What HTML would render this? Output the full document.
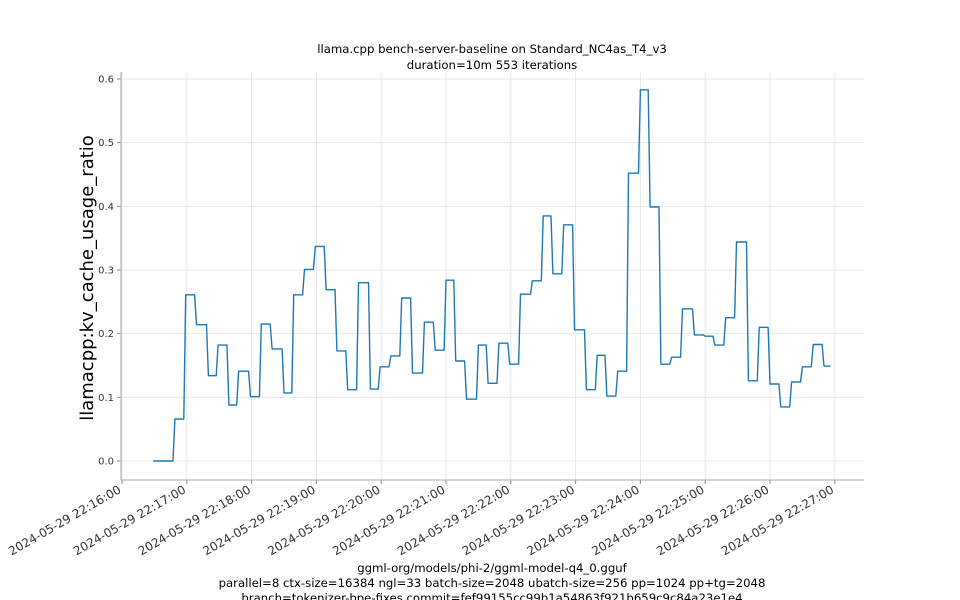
<!DOCTYPE html>
<html><head><meta charset="utf-8"><style>
body{margin:0;background:#fff;}
svg{display:block;font-family:"DejaVu Sans","Liberation Sans",sans-serif;}
</style></head><body>
<svg id="chart" width="960" height="600">
<text x="492" y="53" font-size="11.7" text-anchor="middle" fill="#000">llama.cpp bench-server-baseline on Standard_NC4as_T4_v3</text>
<text x="492" y="69" font-size="11.7" text-anchor="middle" fill="#000">duration=10m 553 iterations</text>
<text transform="translate(93,278) rotate(-90)" font-size="18" text-anchor="middle" fill="#000">llamacpp:kv_cache_usage_ratio</text>
<text x="492" y="572" font-size="11.7" text-anchor="middle">ggml-org/models/phi-2/ggml-model-q4_0.gguf</text>
<text x="492" y="587" font-size="11.7" text-anchor="middle">parallel=8 ctx-size=16384 ngl=33 batch-size=2048 ubatch-size=256 pp=1024 pp+tg=2048</text>
<text x="492" y="602" font-size="11.7" text-anchor="middle">branch=tokenizer-bpe-fixes commit=fef99155cc99b1a54863f921b659c9c84a23e1e4</text>
<g id="grid"></g><g id="axes"></g><g id="series"></g>
</svg>
<script>
const stepTimes=[29,49,59,69,80,89,99,108,119,129,139,150,159,169,179,189,199,209,219,230,239,249,259,269,280,290,300,309,319,330,339,349,359,369,380,390,399,409,419,430,440,449,459,469,480,489,499,509,519,530,540,549,559,569,580,590,600,610,620,630,640,650];
const stepValues=[0.0,0.066,0.261,0.214,0.134,0.182,0.088,0.141,0.101,0.215,0.176,0.107,0.261,0.301,0.337,0.269,0.173,0.112,0.28,0.113,0.148,0.165,0.256,0.138,0.218,0.174,0.284,0.157,0.097,0.182,0.122,0.185,0.152,0.262,0.283,0.385,0.294,0.371,0.206,0.112,0.166,0.102,0.141,0.452,0.583,0.399,0.152,0.163,0.239,0.198,0.196,0.182,0.225,0.344,0.126,0.21,0.121,0.085,0.124,0.148,0.183,0.149];
const endTime=656;
const yTicks=[0.0,0.1,0.2,0.3,0.4,0.5,0.6];
const yTickLabels=["0.0","0.1","0.2","0.3","0.4","0.5","0.6"];
const xTicks=[0,60,120,180,240,300,360,420,480,540,600,660];
const xTickLabels=["2024-05-29 22:16:00","2024-05-29 22:17:00","2024-05-29 22:18:00","2024-05-29 22:19:00","2024-05-29 22:20:00","2024-05-29 22:21:00","2024-05-29 22:22:00","2024-05-29 22:23:00","2024-05-29 22:24:00","2024-05-29 22:25:00","2024-05-29 22:26:00","2024-05-29 22:27:00"];
const L=121,R=864,T=72,B=480;
const xs=t=>122+t*1.08;
const ys=v=>461-v*636.7;
const NS="http://www.w3.org/2000/svg";
function mk(tag,attrs,parent,txt){const e=document.createElementNS(NS,tag);for(const k in attrs)e.setAttribute(k,attrs[k]);if(txt!==undefined)e.textContent=txt;parent.appendChild(e);return e;}
const grid=document.getElementById('grid'),axes=document.getElementById('axes'),series=document.getElementById('series');
yTicks.forEach((v,i)=>{
  const g=mk('line',{x1:L,x2:R,y1:ys(v),y2:ys(v),stroke:'#e8e8e8','stroke-width':1},grid);
  
  
  const tk=mk('line',{x1:L-4,x2:L,y1:ys(v),y2:ys(v),stroke:'#888'},axes);
  
  
  const lb=mk('text',{x:L-7,y:ys(v)+3.5,'font-size':10,'text-anchor':'end',fill:'#333'},axes,yTickLabels[i]);
  
  
});
xTicks.forEach((t,i)=>{
  const x=xs(t);
  const g=mk('line',{x1:x,x2:x,y1:T,y2:B,stroke:'#e8e8e8','stroke-width':1},grid);
  
  
  const tk=mk('line',{x1:x,x2:x,y1:B,y2:B+4,stroke:'#888'},axes);
  
  
  const lb=mk('text',{transform:`translate(${x},${B+12}) rotate(-30)`,'font-size':12,'text-anchor':'end',fill:'#333'},axes,xTickLabels[i]);
  
  
});
const ls=mk('line',{x1:L,x2:L,y1:T,y2:B,stroke:'#aaa'},axes);


const bs=mk('line',{x1:L,x2:R,y1:B,y2:B,stroke:'#aaa'},axes);


let pts=[];
stepTimes.forEach((t,i)=>{
  const tEnd=i<stepTimes.length-1?stepTimes[i+1]-1.8:endTime;
  pts.push(xs(t).toFixed(1)+','+ys(stepValues[i]).toFixed(1));
  pts.push(xs(tEnd).toFixed(1)+','+ys(stepValues[i]).toFixed(1));
});
const pl=mk('polyline',{points:pts.join(' '),fill:'none',stroke:'#1f77b4','stroke-width':1.4,'stroke-linejoin':'round'},series);


</script>
</body></html>
